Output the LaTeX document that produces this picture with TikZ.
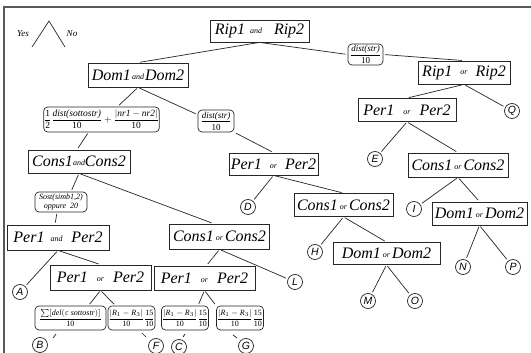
\documentclass[tikz,border=0pt]{standalone}
\usepackage{fontspec}
\usepackage{amsmath}
\setmainfont{Liberation Serif}
\newfontfamily\circfont{Liberation Sans}
\usetikzlibrary{calc}
\newcommand\bxfnt{\fontsize{16}{16}\selectfont\itshape}
\newcommand\lbfnt{\fontsize{9}{10}\selectfont}
\newcommand\cnfnt{\fontsize{10.5}{10.5}\selectfont\circfont\itshape}
\newcommand\smw[1]{\raisebox{1.2pt}{\fontsize{8}{8}\selectfont #1}}
\begin{document}
\begin{tikzpicture}[x=1pt,y=-1pt,
  bx/.style={draw=black!85, line width=0.8pt, inner sep=0pt, font=\bxfnt},
  lb/.style={draw=black!85, line width=0.7pt, rounded corners=4pt, inner sep=0.5pt, font=\lbfnt, align=center},
  cn/.style={circle, draw=black!85, line width=0.7pt, inner sep=0pt, minimum size=15pt, font=\cnfnt},
  ed/.style={line width=0.7pt, draw=black!85, shorten <=1.5pt, shorten >=2pt},
  tk/.style={line width=0.7pt, draw=black!85},
]
\useasboundingbox (0,0) rectangle (531,353);
\fill[white] (0,0) rectangle (531,353);
\draw[line width=1.6pt, black!65] (4,353) -- (4,7) -- (531,7);

% Yes / No legend
\coordinate (yn) at (49,21);
\coordinate (ynl) at (32,47);
\coordinate (ynr) at (65,47);
\draw[tk] (ynl) -- (yn) -- (ynr);
\node[font=\fontsize{9}{9}\selectfont\itshape] (yes) at (23,34) {Yes};
\node[font=\fontsize{9}{9}\selectfont\itshape] (no) at (72,34) {No};

% boxes
\node[bx, minimum width=99pt, minimum height=22pt] (rip) at (259.5,31) {Rip1\hspace{5pt}\smw{and}\hspace{12pt}Rip2};
\node[bx, minimum width=100pt, minimum height=24pt] (dom) at (138,75) {Dom1\hspace{1pt}\smw{and}\hspace{1pt}Dom2};
\node[bx, minimum width=92pt, minimum height=23pt] (ripor) at (464,72.5) {Rip1\hspace{8pt}\smw{or}\hspace{8pt}Rip2};
\node[bx, minimum width=98pt, minimum height=23pt] (perR) at (407,110) {Per1\hspace{9pt}\smw{or}\hspace{9pt}Per2};
\node[bx, minimum width=100pt, minimum height=24pt] (consR) at (458,165) {Cons1\hspace{2pt}\smw{or}\hspace{2pt}Cons2};
\node[bx, minimum width=95pt, minimum height=23pt] (domR) at (479.5,213.5) {Dom1\hspace{2pt}\smw{or}\hspace{2pt}Dom2};
\node[bx, minimum width=89pt, minimum height=22pt] (perM) at (273.5,164) {Per1\hspace{8pt}\smw{or}\hspace{8pt}Per2};
\node[bx, minimum width=99pt, minimum height=23pt] (consM) at (343.5,205) {Cons1\hspace{2pt}\smw{or}\hspace{2pt}Cons2};
\node[bx, minimum width=107pt, minimum height=22pt] (domM) at (386.5,253.5) {Dom1\hspace{2pt}\smw{or}\hspace{2pt}Dom2};
\node[bx, minimum width=102pt, minimum height=23pt] (consA) at (79,161.5) {Cons1\smw{and}Cons2};
\node[bx, minimum width=102pt, minimum height=25pt] (perA) at (58,237.5) {Per1\hspace{6pt}\smw{and}\hspace{9pt}Per2};
\node[bx, minimum width=101pt, minimum height=25pt] (perL) at (100.5,277.5) {Per1\hspace{9pt}\smw{or}\hspace{9pt}Per2};
\node[bx, minimum width=100pt, minimum height=25pt] (consL) at (219.5,236.5) {Cons1\hspace{2pt}\smw{or}\hspace{2pt}Cons2};
\node[bx, minimum width=101pt, minimum height=24pt] (perB) at (204.5,278) {Per1\hspace{9pt}\smw{or}\hspace{9pt}Per2};

% labels
\node[lb, minimum width=35pt, minimum height=21pt] (lblRip) at (365.5,54.5) {$\dfrac{\text{\itshape dist(str)}}{\text{10}}$};
\node[lb, minimum width=36pt, minimum height=22pt] (lblDom) at (216,121) {$\dfrac{\text{\itshape dist(str)}}{\text{10}}$};
\node[lb, minimum width=111pt, minimum height=25pt, font=\fontsize{9.5}{10}\selectfont] (lblBig) at (101.5,119.5) {$\dfrac{\text{1}}{\text{2}}\dfrac{\text{\itshape dist(sottostr)}}{\text{10}}+\dfrac{|\text{\itshape nr1} - \text{\itshape nr2}|}{\text{10}}$};
\node[lb, minimum width=52pt, minimum height=20pt, font=\fontsize{8}{8.5}\selectfont\itshape] (lblSost) at (61,202) {Sost(simb1,2)\\oppure\hspace{4pt}20};
\node[lb, minimum width=71pt, minimum height=24pt, font=\fontsize{8}{9}\selectfont] (lblB) at (70.5,318) {$\dfrac{\textstyle\sum[\text{\itshape del}(\varepsilon\ \text{\itshape sottostr})]}{\text{10}}$};
\node[lb, minimum width=43pt, minimum height=24pt, font=\fontsize{8}{9}\selectfont] (lblF) at (131.5,318) {$\dfrac{|\text{\itshape R}_1-\text{\itshape R}_3|}{\text{10}}\dfrac{\text{15}}{\text{10}}$};
\node[lb, minimum width=44pt, minimum height=24pt, font=\fontsize{8}{9}\selectfont] (lblC) at (185,318) {$\dfrac{|\text{\itshape R}_1-\text{\itshape R}_3|}{\text{10}}\dfrac{\text{15}}{\text{10}}$};
\node[lb, minimum width=46pt, minimum height=24pt, font=\fontsize{8}{9}\selectfont] (lblG) at (240,318) {$\dfrac{|\text{\itshape R}_1-\text{\itshape R}_3|}{\text{10}}\dfrac{\text{15}}{\text{10}}$};

% circles
\node[cn] (Q) at (512,111) {Q};
\node[cn] (E) at (375,159) {E};
\node[cn] (I) at (414,209) {I};
\node[cn] (N) at (463,267) {N};
\node[cn] (P) at (513,267) {P};
\node[cn] (D) at (248,207) {D};
\node[cn] (H) at (315,252) {H};
\node[cn] (M) at (368,301) {M};
\node[cn] (O) at (415,301) {O};
\node[cn] (L) at (295,282) {L};
\node[cn] (A) at (20,292) {A};
\node[cn] (B) at (40,345) {B};
\node[cn] (F) at (156,346) {F};
\node[cn] (C) at (179,347) {C};
\node[cn] (G) at (246,346) {G};

% connectors
\draw[ed] (rip.south) -- (dom.north);
\draw[ed] (rip.south) -- (lblRip.west);
\draw[ed] (lblRip.east) -- (ripor.north);
\draw[ed] (dom.south) -- ($(lblBig.north)+(16,0)$);
\draw[ed] ($(lblBig.south)+(-13,0)$) -- ($(consA.north)+(-2,0)$);
\draw[ed] (dom.south) -- ($(lblDom.north west)+(0,5)$);
\draw[ed] (lblDom.south east) -- (perM.north);
\draw[ed] (consA.south) -- ($(lblSost.north)+(10,0)$);
\draw[ed] ($(lblSost.south)+(-4,0)$) -- ($(perA.north)+(-3,0)$);
\draw[ed] (consA.south) -- ($(consL.north)+(-6,0)$);
\draw[ed] (perA.south) -- (A);
\draw[ed] (perA.south) -- (perL.north);
\draw[ed] (perL.south) -- ($(lblB.north)+(18,0)$);
\draw[ed] (perL.south) -- ($(lblF.north)+(-16,0)$);
\draw[ed] (consL.south) -- ($(perB.north)+(2,0)$);
\draw[ed] (consL.south) -- (L);
\draw[ed] (perB.south) -- ($(lblC.north)+(13,0)$);
\draw[ed] (perB.south) -- ($(lblG.north)+(-24,0)$);
\draw[ed] (perM.south) -- (D);
\draw[ed] (perM.south) -- (consM.north);
\draw[ed] (consM.south) -- (H);
\draw[ed] (consM.south) -- (domM.north);
\draw[ed] (domM.south) -- (M);
\draw[ed] (domM.south) -- (O);
\draw[ed] (ripor.south) -- (perR.north);
\draw[ed] (ripor.south) -- (Q);
\draw[ed] (perR.south) -- (E);
\draw[ed] (perR.south) -- (consR.north);
\draw[ed] (consR.south) -- (I);
\draw[ed] (consR.south) -- (domR.north);
\draw[ed] (domR.south) -- (N);
\draw[ed] (domR.south) -- (P);

% short ticks below labels
\coordinate (tb1) at (56,334); \coordinate (tb2) at (53,338);
\coordinate (tf1) at (142,333); \coordinate (tf2) at (146,337);
\coordinate (tc1) at (185,334); \coordinate (tc2) at (183,337);
\coordinate (tg1) at (233,335); \coordinate (tg2) at (237,338);
\draw[tk] (tb1) -- (tb2);
\draw[tk] (tf1) -- (tf2);
\draw[tk] (tc1) -- (tc2);
\draw[tk] (tg1) -- (tg2);
\end{tikzpicture}
\end{document}
